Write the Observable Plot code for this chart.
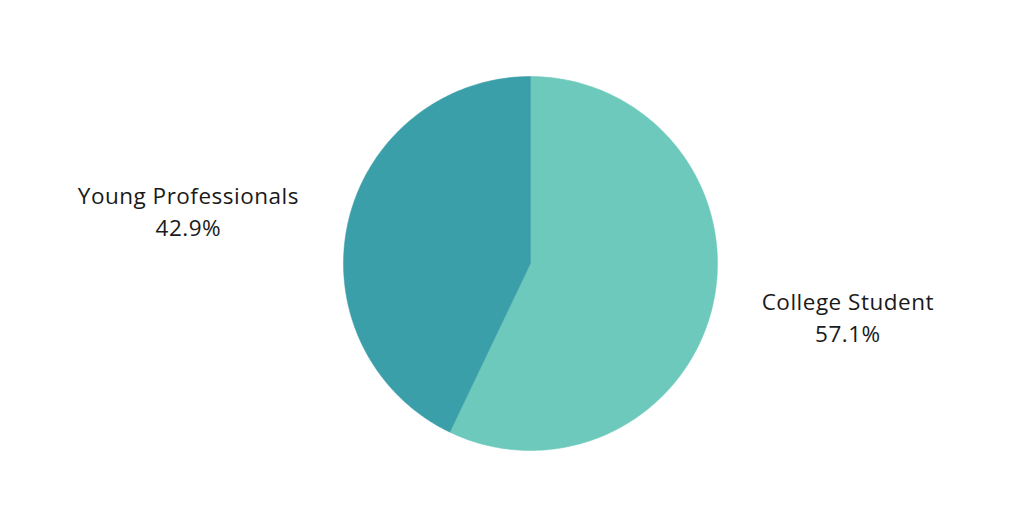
<!DOCTYPE html>
<html>
<head>
<meta charset="utf-8">
<script src="https://cdn.jsdelivr.net/npm/d3@7"></script>
<script src="https://cdn.jsdelivr.net/npm/@observablehq/plot@0.6"></script>
<style>
  html, body { margin: 0; padding: 0; background: #ffffff; }
  #chart { width: 1013px; height: 527px; }
</style>
</head>
<body>
<div id="chart"></div>
<script>
const categories = ["College Student", "Young Professionals"];
const values = [57.1, 42.9];
const percentLabels = ["57.1%", "42.9%"];
const colors = ["#6dc9bc", "#3a9fa9"];

const pie = d3.pie().sort(null).value(d => d.value);
const arcs = pie(categories.map((c, i) => ({category: c, value: values[i], pct: percentLabels[i], color: colors[i]})));

// Build slice outlines in unit coordinates (radius 1)
const slices = arcs.map(a => {
  const pts = [{x: 0, y: 0}];
  const n = 200;
  for (let k = 0; k <= n; k++) {
    const t = a.startAngle + (a.endAngle - a.startAngle) * k / n;
    pts.push({x: Math.sin(t), y: Math.cos(t)});
  }
  pts.push({x: 0, y: 0});
  return {arc: a, pts};
});

const labelR = [1.74, 1.876];
const labelYFactor = [0.73, 0.69];
const labelData = arcs.map((a, i) => {
  const mid = (a.startAngle + a.endAngle) / 2;
  return {
    x: Math.sin(mid) * labelR[i],
    y: Math.cos(mid) * labelR[i] * labelYFactor[i],
    text: a.data.category + "\n" + a.data.pct
  };
});

const chart = Plot.plot({
  width: 1013,
  height: 527,
  margin: 0,
  x: {domain: [-530 / 187, 483 / 187], axis: null},
  y: {domain: [-(527 - 263) / 187, 263 / 187], axis: null},
  style: {background: "#ffffff", fontFamily: "Open Sans, sans-serif", letterSpacing: "0.5px"},
  marks: [
    ...slices.map(s => Plot.line(s.pts, {x: "x", y: "y", fill: s.arc.data.color, stroke: s.arc.data.color, strokeWidth: 0.5, curve: "linear"})),
    Plot.text(labelData, {x: "x", y: "y", text: "text", fontSize: 22.5, lineHeight: 1.42, fill: "#1a1a1a", textAnchor: "middle"})
  ]
});
document.getElementById("chart").appendChild(chart);
</script>
</body>
</html>
